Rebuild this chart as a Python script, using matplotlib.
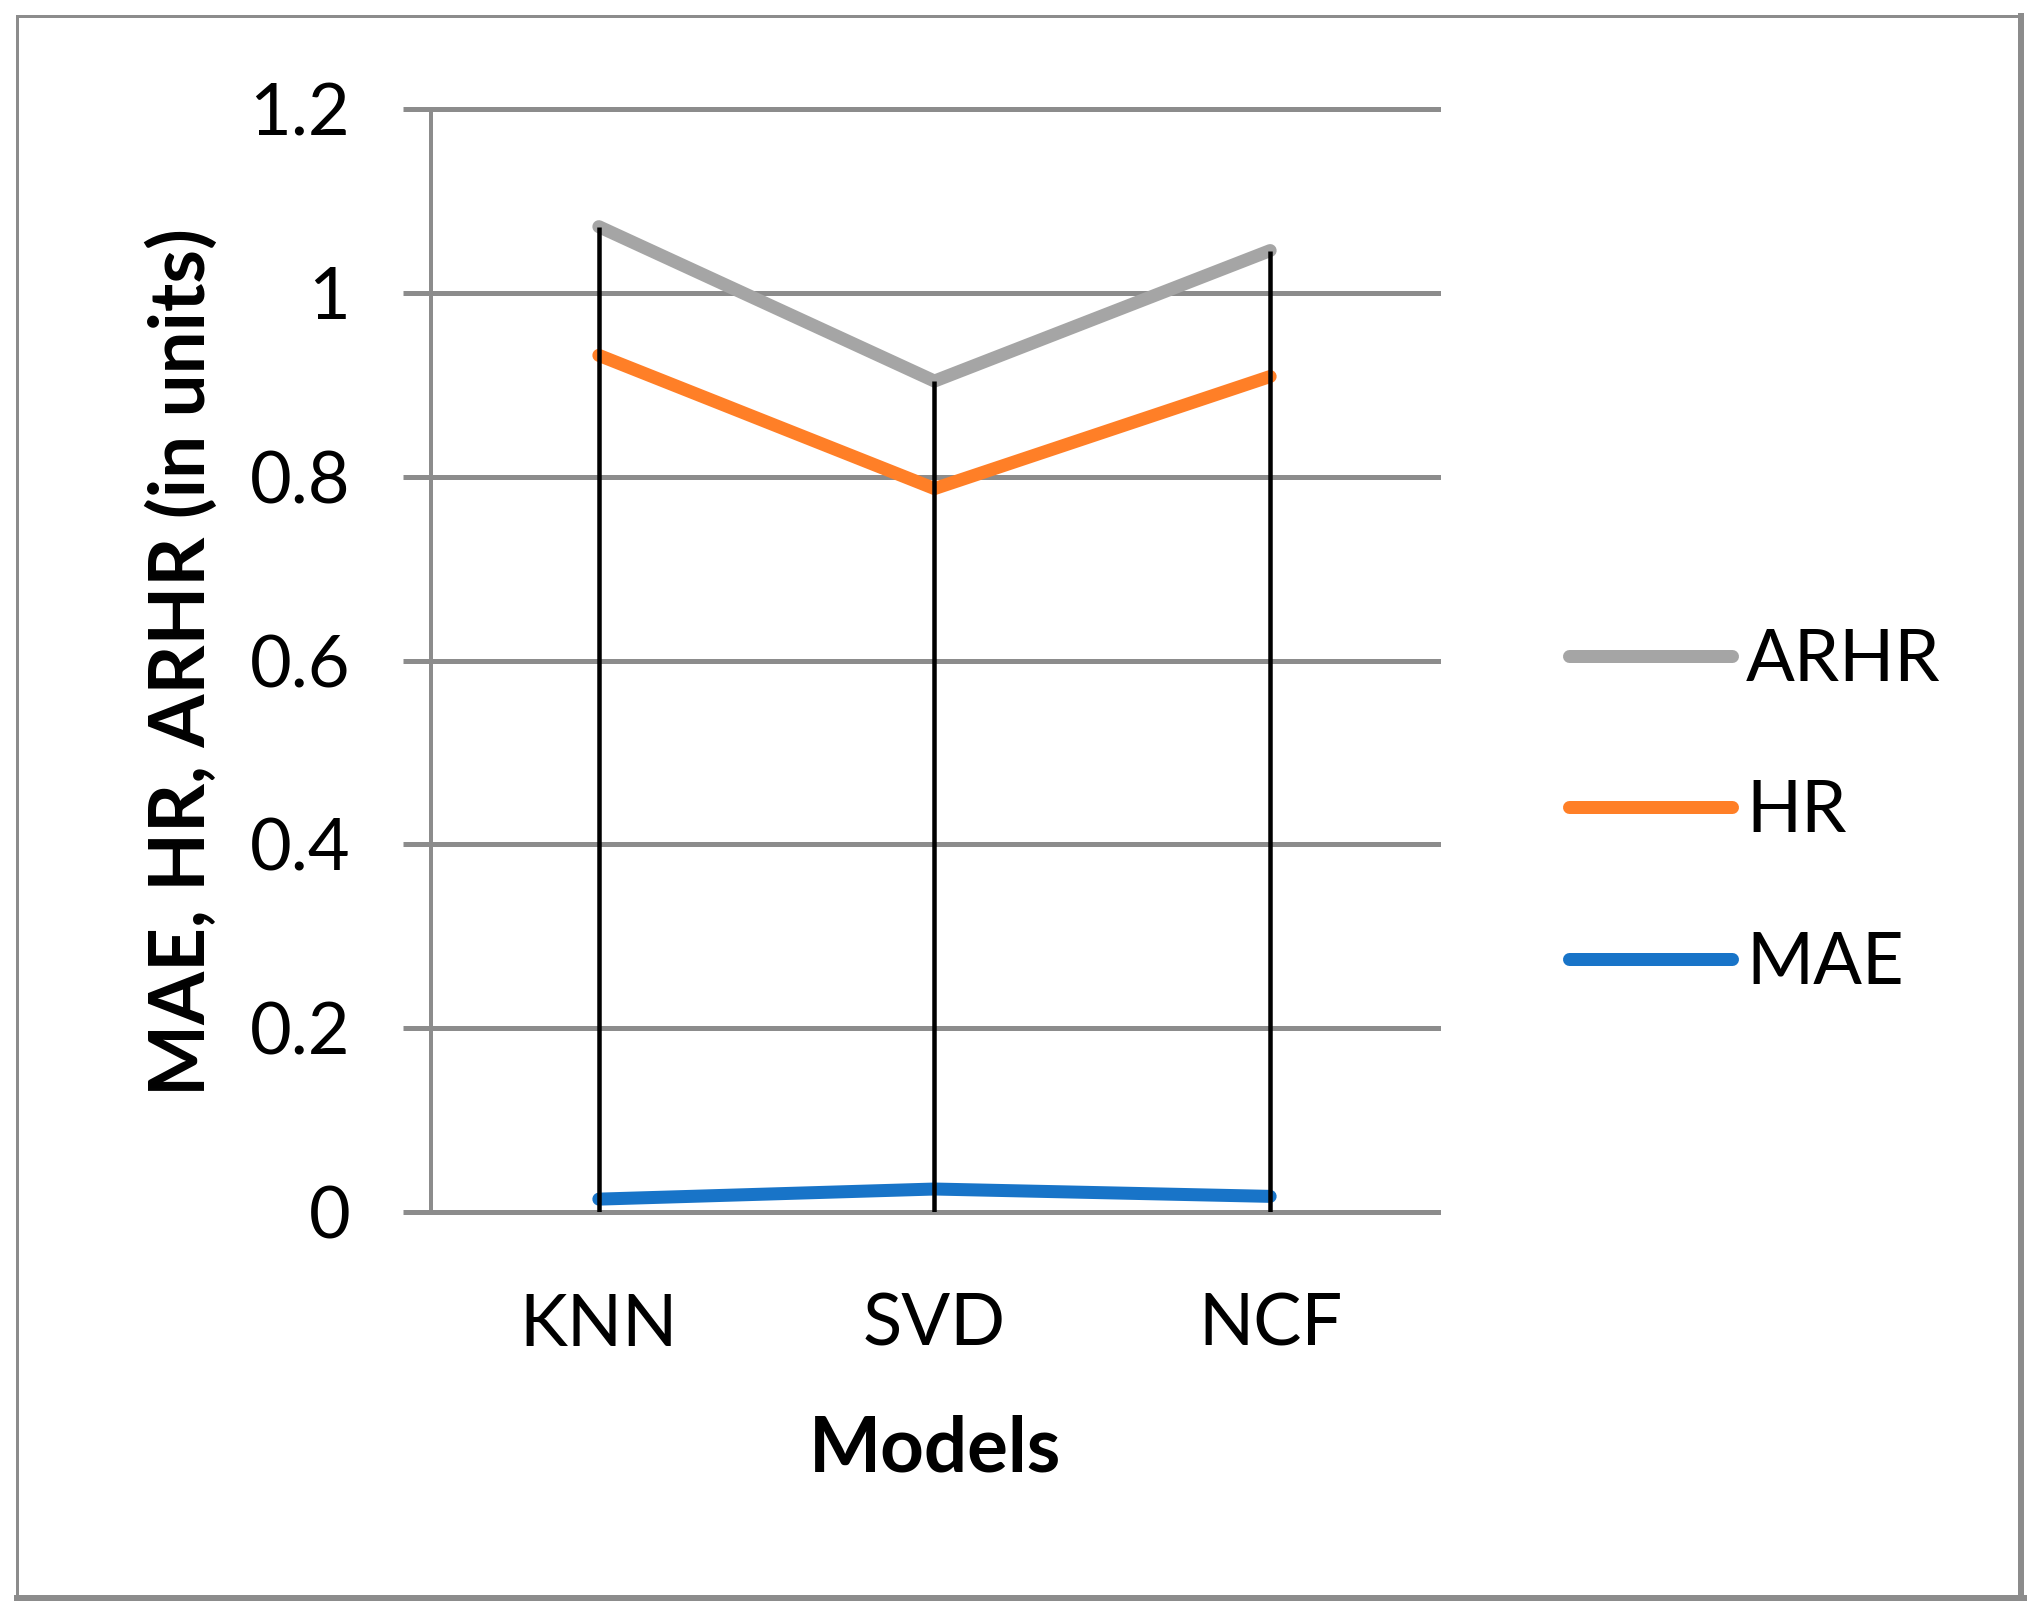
import matplotlib
matplotlib.use('Agg')
import matplotlib.pyplot as plt
from matplotlib.lines import Line2D
import numpy as np

# ---- data ----
models = ['KNN', 'SVD', 'NCF']
arhr = [1.072, 0.904, 1.046]
hr = [0.932, 0.787, 0.909]
mae = [0.014, 0.025, 0.017]
yticks = [0, 0.2, 0.4, 0.6, 0.8, 1.0, 1.2]
ytick_labels = ['0', '0.2', '0.4', '0.6', '0.8', '1', '1.2']
series_names = ['ARHR', 'HR', 'MAE']

W, H, DPI = 2040, 1618, 200
plt.rcParams['font.family'] = ['Lato', 'DejaVu Sans']


def px(v):
    return v * 72.0 / DPI


GRID = '#8c8c8c'
C_ARHR = '#a5a5a5'
C_HR = '#ff7f27'
C_MAE = '#1874c8'

fig = plt.figure(figsize=(W / DPI, H / DPI), dpi=DPI)
fig.patch.set_facecolor('white')

ax = fig.add_axes([431 / W, 1 - 1212 / H, (1438 - 431) / W, (1212 - 109) / H])
xpos = np.arange(len(models)) + 0.5
ax.set_xlim(0, len(models))
ax.set_ylim(0, 1.2)

# spines
for s in ['top', 'right', 'bottom']:
    ax.spines[s].set_visible(False)
ax.spines['left'].set_color(GRID)
ax.spines['left'].set_linewidth(px(4))
ax.spines['left'].set_zorder(1)

# y grid and ticks
ax.set_yticks(yticks)
ax.set_yticklabels(ytick_labels)
ax.yaxis.grid(True, color=GRID, linewidth=px(5))
ax.set_axisbelow(True)
for gl in ax.get_ygridlines():
    gl.set_clip_on(False)
ax.tick_params(axis='y', length=px(28), width=px(5), color=GRID,
               pad=19, labelsize=26, labelcolor='black')

# x ticks
ax.set_xticks(xpos)
ax.set_xticklabels(models)
ax.tick_params(axis='x', length=0, pad=29, labelsize=26, labelcolor='black')

lw = px(13)
l_mae, = ax.plot(xpos, mae, color=C_MAE, lw=lw, solid_capstyle='round',
                 solid_joinstyle='round', zorder=3, clip_on=False)
l_hr, = ax.plot(xpos, hr, color=C_HR, lw=lw, solid_capstyle='round',
                solid_joinstyle='miter', zorder=3, clip_on=False)
l_arhr, = ax.plot(xpos, arhr, color=C_ARHR, lw=lw, solid_capstyle='round',
                  solid_joinstyle='miter', zorder=3, clip_on=False)

# drop lines from the highest value to the axis
tops = np.max(np.vstack([arhr, hr, mae]), axis=0)
ax.vlines(xpos, 0, tops, colors='black', linewidth=px(4.5), zorder=4)

# legend
ax.legend([l_arhr, l_hr, l_mae], series_names, loc='center left',
          bbox_to_anchor=(1569 / W, 1 - 812 / H), bbox_transform=fig.transFigure,
          frameon=False, fontsize=26, handlelength=2.25, handletextpad=0.2,
          labelspacing=1.2, borderpad=0, borderaxespad=0)

# axis titles
fig.text(182 / W, 1 - 662 / H, 'MAE, HR, ARHR (in units)', rotation=90,
         ha='center', va='center', fontsize=27.5, fontweight='bold')
fig.text(935 / W, 1 - 1471 / H, 'Models', ha='center', va='baseline',
         fontsize=27.5, fontweight='bold')

# outer border (thicker right/bottom)
fig.add_artist(Line2D([17 / W, 17 / W], [1 - 16 / H, 1 - 1598 / H],
                      transform=fig.transFigure, color=GRID, lw=px(3)))
fig.add_artist(Line2D([17 / W, 2021 / W], [1 - 16 / H, 1 - 16 / H],
                      transform=fig.transFigure, color=GRID, lw=px(3)))
fig.add_artist(Line2D([2021 / W, 2021 / W], [1 - 16 / H, 1 - 1598 / H],
                      transform=fig.transFigure, color=GRID, lw=px(6)))
fig.add_artist(Line2D([17 / W, 2024 / W], [1 - 1598 / H, 1 - 1598 / H],
                      transform=fig.transFigure, color=GRID, lw=px(6)))

fig.savefig('out.png', dpi=DPI, facecolor='white')
